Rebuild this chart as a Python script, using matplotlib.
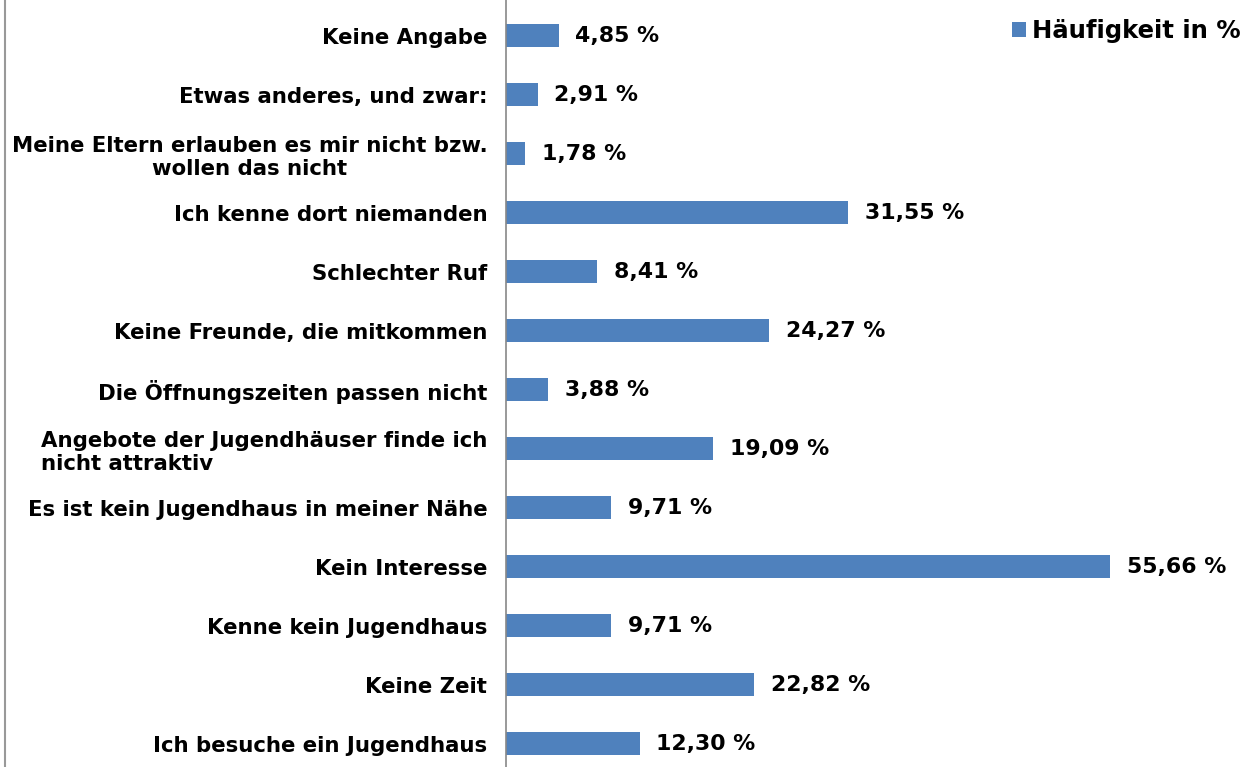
import matplotlib
matplotlib.use("Agg")
import matplotlib.pyplot as plt
from matplotlib.lines import Line2D

categories = [
    "Ich besuche ein Jugendhaus",
    "Keine Zeit",
    "Kenne kein Jugendhaus",
    "Kein Interesse",
    "Es ist kein Jugendhaus in meiner Nähe",
    "Angebote der Jugendhäuser finde ich\nnicht attraktiv",
    "Die Öffnungszeiten passen nicht",
    "Keine Freunde, die mitkommen",
    "Schlechter Ruf",
    "Ich kenne dort niemanden",
    "Meine Eltern erlauben es mir nicht bzw.\nwollen das nicht",
    "Etwas anderes, und zwar:",
    "Keine Angabe",
]
values = [12.30, 22.82, 9.71, 55.66, 9.71, 19.09, 3.88, 24.27, 8.41, 31.55, 1.78, 2.91, 4.85]
series_name = "Häufigkeit in %"
color = "#4F81BD"

plt.rcParams['font.family'] = ['DejaVu Sans']
fig = plt.figure(figsize=(12.55, 7.67), dpi=100)
W, H = 1255, 767
ax = fig.add_axes([506 / W, 0, (W - 506) / W, 1])

y = list(range(len(categories)))
bars = ax.barh(y, values, height=0.39, color=color, label=series_name)
ax.set_xlim(0, 69.0)
ax.set_ylim(-0.39, 12.61)

for yi, v in zip(y, values):
    ax.text(v + 1.55, yi, f"{v:.2f}".replace(".", ",") + " %", va="center", ha="left",
            fontsize=15.8, fontweight="bold")

ax.set_yticks(y)
ax.set_yticklabels(categories, fontsize=15.3, fontweight="bold")
ax.tick_params(axis="y", length=0, pad=13.5)
ax.set_xticks([])
for lbl, cat in zip(ax.get_yticklabels(), categories):
    lbl.set_linespacing(1.2)
    if cat.startswith("Angebote"):
        lbl.set_multialignment("left")
    else:
        lbl.set_multialignment("center")

for s in ["top", "right", "bottom"]:
    ax.spines[s].set_visible(False)
ax.spines["left"].set_color("#888888")
ax.spines["left"].set_linewidth(1.2)

fig.add_artist(Line2D([5 / W, 5 / W], [0, 1], transform=fig.transFigure, color="#999999", lw=1.5))

leg = ax.legend(loc="center right", bbox_to_anchor=(1241 / W, 1 - 31 / H),
                bbox_transform=fig.transFigure, frameon=False,
                prop={"size": 17.5, "weight": "bold"}, handlelength=0.57, handleheight=0.57,
                handletextpad=0.25, borderaxespad=0, borderpad=0)

fig.savefig("out.png", dpi=100)
